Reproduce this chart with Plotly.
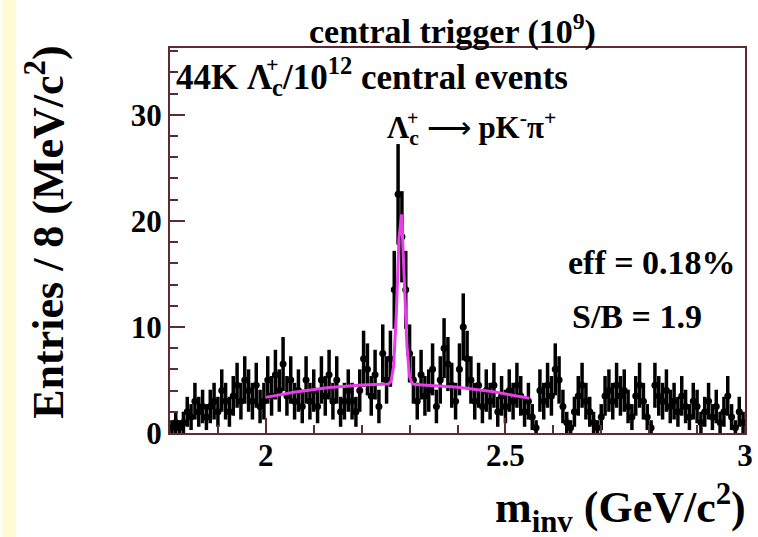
import numpy as np
import plotly.graph_objects as go

# Invariant-mass histogram: 8 MeV bins from 1.8 to 3.0 GeV/c^2
bin_width = 0.008
bin_low = 1.8
counts = [
    0.5, 1, 0.5, 1, 2, 1.5, 3, 2, 2.5, 1.5,
    2.5, 3, 2, 4, 3, 2, 3.5, 4.5, 3, 5,
    4, 3, 4.5, 2.5, 3, 5, 3.5, 5.5, 4, 6.5,
    3.5, 5, 3, 4, 2.5, 5, 3, 4, 2.5, 5,
    3.5, 5.5, 3, 5, 2, 3, 4, 3, 2, 4,
    7, 6, 3.5, 5.5, 2.5, 7.5, 5, 7, 13.5, 22.5,
    18.5, 13.5, 7.5, 5, 3, 5.5, 3.5, 4, 6, 2.5,
    5, 8, 6.5, 4.5, 3, 6, 10, 7, 5, 3,
    4.5, 2.5, 4, 3, 4.5, 2, 3.5, 2.5, 4, 3,
    4.5, 3.5, 2, 3, 1.5, 0.5, 4, 3, 4.5, 3.5,
    6, 5, 2.5, 1, 0.5, 2, 3.5, 4.5, 3, 2,
    1, 0.5, 1.5, 3.5, 4, 3, 4.5, 3.5, 4, 2.5,
    1.5, 3.5, 4.5, 3, 1.5, 0.5, 4.5, 3.5, 3, 4,
    2.5, 3, 2, 3.5, 2.5, 1.5, 3, 2.5, 1, 2,
    3, 1.5, 2.5, 1, 2, 3.5, 1.5, 0.5, 2, 1,
]

# Fit: Gaussian signal on a quadratic background, drawn over 2.0-2.55
fit_range = (2.0, 2.55)
fit_npx = 100
sig_amp, sig_mean, sig_sigma = 16.3, 2.282, 0.0072
bkg_top, bkg_peak_pos, bkg_curv = 4.6, 2.27, -17.0

centers = bin_low + bin_width * (np.arange(len(counts)) + 0.5)
counts = np.array(counts, dtype=float)
errors = np.sqrt(counts)

xf = np.linspace(fit_range[0], fit_range[1], fit_npx)
yf = (sig_amp * np.exp(-0.5 * ((xf - sig_mean) / sig_sigma) ** 2)
      + bkg_top + bkg_curv * (xf - bkg_peak_pos) ** 2)

SERIF = "Liberation Serif, Times New Roman, serif"
FRAME = "#5c2b33"

# plot-area geometry in pixels (for placing labels outside it)
L, R, T, B = 170, 5, 48, 104
PW, PH = 758 - L - R, 537 - T - B


def px_x(x):
    return (x - L) / PW


def px_y(y):
    return (537 - B - y) / PH


fig = go.Figure()
fig.add_trace(go.Scatter(
    x=centers, y=counts, mode="markers",
    marker=dict(color="black", size=7, symbol="circle"),
    error_y=dict(type="data", array=errors, color="black", thickness=3.5, width=0),
    error_x=dict(type="constant", value=bin_width / 2, color="black", thickness=3.5, width=0),
    showlegend=False,
))
fig.add_trace(go.Scatter(
    x=xf, y=yf, mode="lines",
    line=dict(color="#e83ee8", width=3),
    showlegend=False,
))

axis_font = dict(family=SERIF, size=31, color="black", weight="bold")
fig.update_xaxes(
    range=[1.8, 3.0], tickvals=[2, 2.5, 3], ticktext=["2", "2.5", "3"],
    ticks="inside", ticklen=15, tickwidth=1.5, tickcolor=FRAME,
    minor=dict(dtick=0.1, ticks="inside", ticklen=8, tickwidth=1.5, tickcolor=FRAME),
    showline=True, linecolor=FRAME, linewidth=2, mirror=True,
    showgrid=False, zeroline=False, tickfont=axis_font,
    ticklabeloverflow="allow", ticklabelstandoff=-6,
)
fig.update_yaxes(
    range=[0, 36.3], tickvals=[0, 10, 20, 30],
    ticks="inside", ticklen=15, tickwidth=1.5, tickcolor=FRAME,
    minor=dict(dtick=2, ticks="inside", ticklen=8, tickwidth=1.5, tickcolor=FRAME),
    showline=True, linecolor=FRAME, linewidth=2, mirror=True,
    showgrid=False, zeroline=False, tickfont=axis_font,
)


def label(text, x, y, xanchor, size, angle=0):
    return dict(text=text, x=px_x(x), y=px_y(y), xref="paper", yref="paper",
                xanchor=xanchor, yanchor="middle", showarrow=False, textangle=angle,
                font=dict(family=SERIF, size=size, color="black", weight="bold"))


annotations = [
    label("central trigger (10<sup>9</sup>)", 456, 30, "center", 34),
    label("44K Λ<sub>c</sub>/10<sup>12</sup> central events", 174, 76, "left", 35),
    label("+", 274, 64, "center", 22),
    label("Λ<sub>c</sub> <span style='font-weight:normal'>⟶</span> pK<sup>-</sup>π<sup>+</sup>",
          388, 128, "left", 31),
    label("+", 416, 118, "center", 20),
    label("eff = 0.18%", 746, 262, "right", 34),
    label("S/B = 1.9", 711, 316, "right", 34),
    label("Entries / 8 (MeV/c<sup>2</sup>)", 43, 232, "center", 44, angle=-90),
    label("m<sub>inv</sub> (GeV/c<sup>2</sup>)", 756, 508, "right", 44),
]

fig.update_layout(
    width=758, height=537,
    margin=dict(l=L, r=R, t=T, b=B),
    paper_bgcolor="white", plot_bgcolor="white",
    annotations=annotations,
    shapes=[dict(type="rect", xref="paper", yref="paper",
                 x0=px_x(0), x1=px_x(14), y0=px_y(537), y1=px_y(0),
                 fillcolor="#fffbd2", line=dict(width=0), layer="below")],
)

fig.write_html("out.html")
